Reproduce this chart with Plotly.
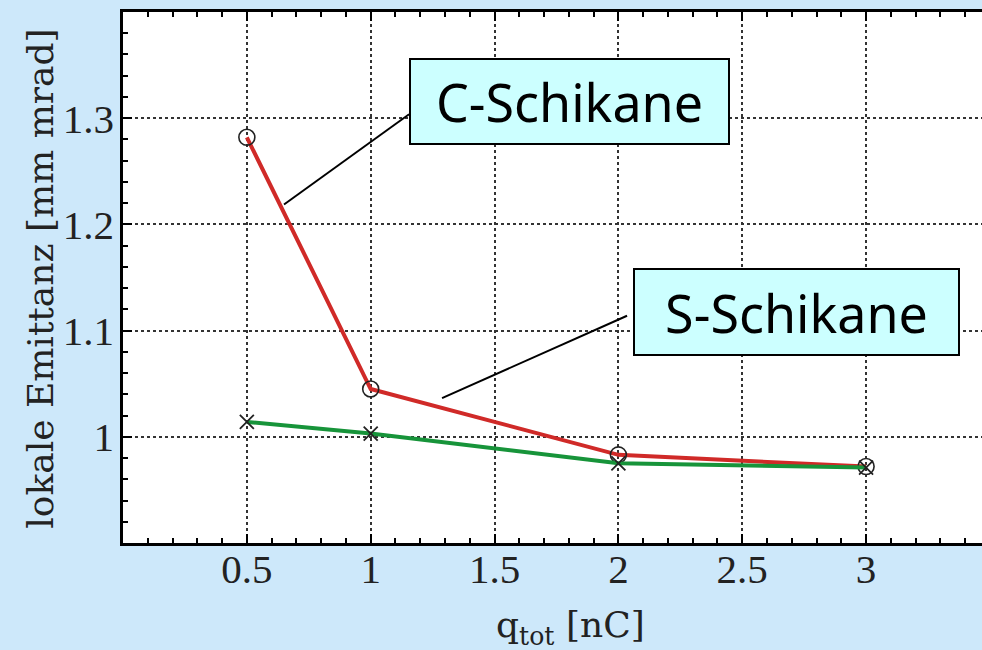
import plotly.graph_objects as go

# Total bunch charge [nC]
charge_nc = [0.5, 1, 2, 3]

# Local emittance [mm mrad] for the two chicane types
c_schikane = [1.282, 1.045, 0.983, 0.972]
s_schikane = [1.014, 1.003, 0.975, 0.971]

series_names = ["C-Schikane", "S-Schikane"]

x_ticks = [0.5, 1, 1.5, 2, 2.5, 3]
y_ticks = [1, 1.1, 1.2, 1.3]

BG = "#cde8fa"
BOX = "#ccffff"
RED = "#d02a28"
GREEN = "#17943a"
SERIF = "Liberation Serif"
TITLE_FONT = "DejaVu Serif"

fig = go.Figure()

fig.add_trace(go.Scatter(
    x=charge_nc, y=c_schikane, name=series_names[0], mode="lines+markers",
    line=dict(color=RED, width=4),
    marker=dict(symbol="circle-open", size=16, color="#222222", line=dict(width=1.6)),
))
fig.add_trace(go.Scatter(
    x=charge_nc, y=s_schikane, name=series_names[1], mode="lines+markers",
    line=dict(color=GREEN, width=4),
    marker=dict(symbol="x-thin-open", size=14, color="#222222", line=dict(width=1.8)),
))

# Leader lines from the labels to their curves
fig.add_shape(type="line", xref="x", yref="y", x0=0.65, y0=1.2187, x1=1.155, y1=1.3037,
              line=dict(color="black", width=2))
fig.add_shape(type="line", xref="x", yref="y", x0=1.288, y0=1.0364, x1=2.035, y1=1.114,
              line=dict(color="black", width=2))

label_font = dict(family="Noto Sans", size=52, color="black")
fig.add_annotation(
    x=1.8026, y=1.3154, xref="x", yref="y", text=series_names[0], showarrow=False,
    font=label_font, bgcolor=BOX, bordercolor="black", borderwidth=2, borderpad=0,
    width=317, height=83, align="center", valign="middle",
)
fig.add_annotation(
    x=2.719, y=1.1178, xref="x", yref="y", text=series_names[1], showarrow=False,
    font=label_font, bgcolor=BOX, bordercolor="black", borderwidth=2, borderpad=0,
    width=323, height=84, align="center", valign="middle",
)

# Axis titles
fig.add_annotation(
    x=0.5215, y=-0.16, xref="paper", yref="paper", text="q<sub>tot</sub> [nC]",
    showarrow=False, font=dict(family=TITLE_FONT, size=36, color="#222222"),
    xanchor="center", yanchor="middle",
)
fig.add_annotation(
    x=-0.097, y=0.497, xref="paper", yref="paper", text="lokale Emittanz [mm mrad]",
    showarrow=False, textangle=-90, font=dict(family=TITLE_FONT, size=36, color="#222222"),
    xanchor="center", yanchor="middle",
)

grid = dict(showgrid=True, gridcolor="#333333", gridwidth=1.8, griddash="dot")

fig.update_xaxes(
    range=[0, 3.468], tickvals=x_ticks, ticktext=[f"{v:g}" for v in x_ticks],
    ticks="inside", ticklen=9, tickwidth=2.2, tickcolor="black",
    minor=dict(dtick=0.1, tick0=0, ticks="inside", ticklen=5, tickwidth=1.6, tickcolor="black"),
    showline=True, linecolor="black", linewidth=2.5, mirror="ticks",
    tickfont=dict(family=SERIF, size=41, color="#222222"), ticklabelstandoff=-12,
    zeroline=False, **grid,
)
fig.update_yaxes(
    range=[0.9, 1.4], tickvals=y_ticks, ticktext=[f"{v:g}" for v in y_ticks],
    ticks="inside", ticklen=9, tickwidth=2.2, tickcolor="black",
    minor=dict(dtick=0.02, tick0=0.9, ticks="inside", ticklen=5, tickwidth=1.6, tickcolor="black"),
    showline=True, linecolor="black", linewidth=2.5, mirror=False,
    tickfont=dict(family=SERIF, size=41, color="#222222"), ticklabelstandoff=-2,
    zeroline=False, **grid,
)

fig.update_layout(
    width=982, height=650,
    margin=dict(l=123, r=0, t=12, b=107),
    paper_bgcolor=BG, plot_bgcolor="white",
    showlegend=False,
)

fig.write_html("out.html")
